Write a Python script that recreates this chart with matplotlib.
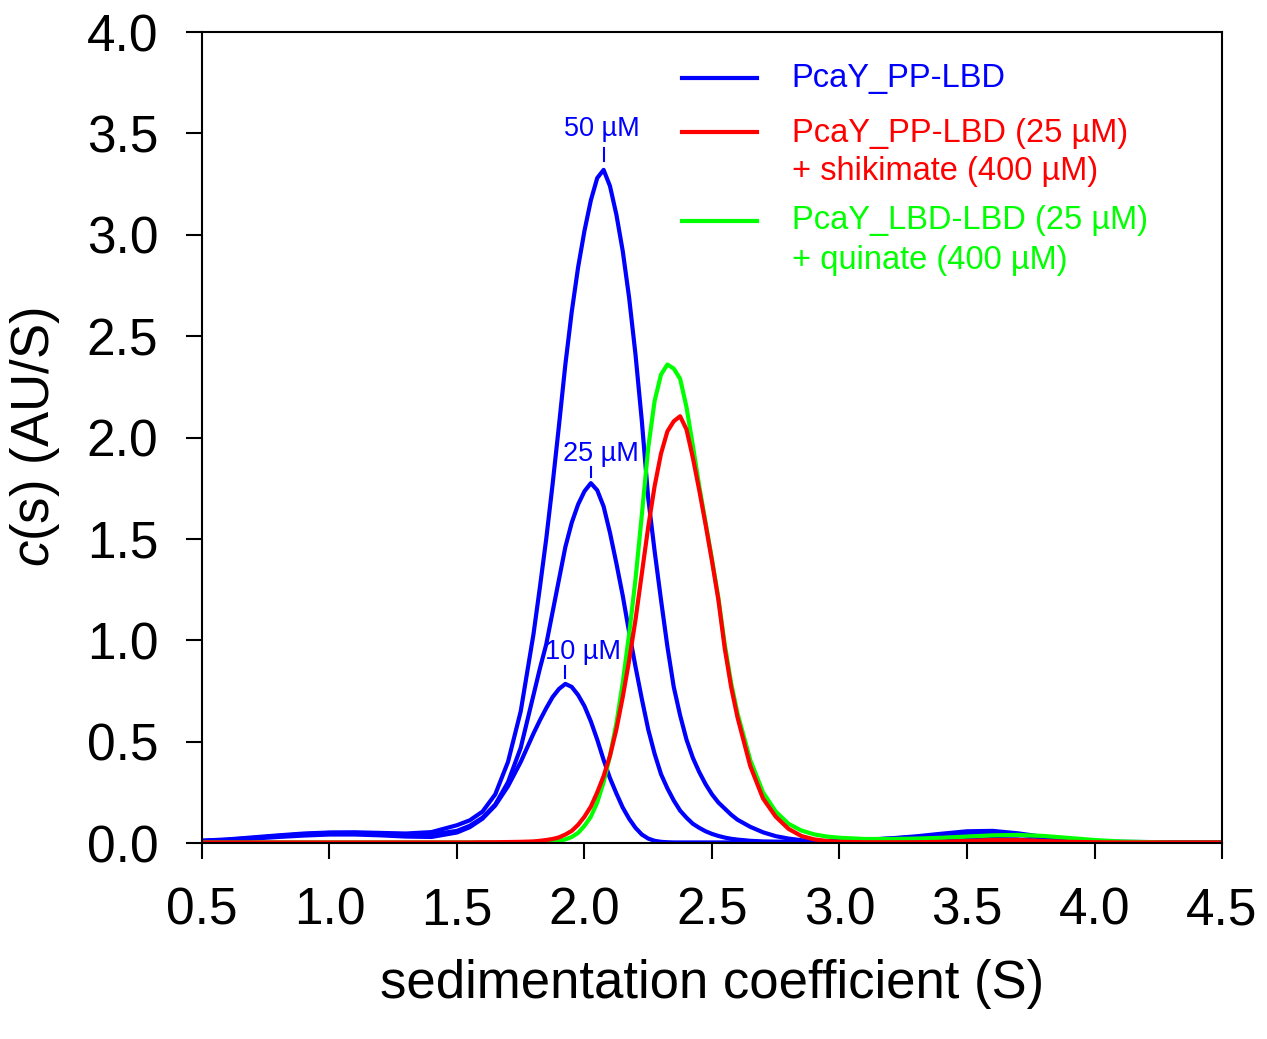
import numpy as np
import matplotlib
matplotlib.use('Agg')
import matplotlib.pyplot as plt
from matplotlib.lines import Line2D

plt.rcParams['font.family'] = ['Liberation Sans', 'DejaVu Sans']
plt.rcParams['mathtext.fontset'] = 'custom'
plt.rcParams['mathtext.rm'] = 'Liberation Sans'
plt.rcParams['mathtext.it'] = 'Liberation Sans:italic'

# sedimentation coefficient grid (S)
s = [0.5, 0.6, 0.7, 0.8, 0.9, 1.0, 1.1, 1.2, 1.3, 1.4,
     1.5, 1.55, 1.6, 1.65, 1.7, 1.75,
     1.8, 1.825, 1.85, 1.875, 1.9, 1.925, 1.95, 1.975, 2.0, 2.025, 2.05, 2.075,
     2.1, 2.125, 2.15, 2.175, 2.2, 2.225, 2.25, 2.275, 2.3, 2.325, 2.35, 2.375,
     2.4, 2.425, 2.45, 2.475, 2.5, 2.525, 2.55, 2.575, 2.6,
     2.65, 2.7, 2.75, 2.8, 2.85, 2.9, 2.95, 3.0,
     3.1, 3.2, 3.3, 3.4, 3.5, 3.6, 3.7, 3.8, 3.9, 4.0, 4.1, 4.2, 4.3, 4.4, 4.5]

# c(s) distributions (AU/S)
pp_50uM = [0.012, 0.018, 0.028, 0.038, 0.047, 0.052, 0.053, 0.05, 0.047, 0.054,
           0.088, 0.112, 0.155, 0.24, 0.40, 0.65,
           1.03, 1.26, 1.50, 1.77, 2.06, 2.36, 2.62, 2.84, 3.02, 3.17, 3.28, 3.32,
           3.24, 3.10, 2.92, 2.69, 2.41, 2.08, 1.70, 1.44, 1.20, 0.97, 0.77, 0.63,
           0.51, 0.42, 0.35, 0.29, 0.24, 0.20, 0.17, 0.14, 0.115,
           0.08, 0.053, 0.034, 0.022, 0.014, 0.011, 0.01, 0.011,
           0.016, 0.023, 0.033, 0.046, 0.058, 0.06, 0.048, 0.03, 0.016, 0.009, 0.006, 0.005, 0.004, 0.004, 0.004]

pp_25uM = [0.01, 0.016, 0.025, 0.035, 0.044, 0.05, 0.05, 0.046, 0.041, 0.042,
           0.06, 0.085, 0.125, 0.19, 0.30, 0.47,
           0.73, 0.86, 0.98, 1.14, 1.30, 1.46, 1.58, 1.67, 1.735, 1.775, 1.74, 1.66,
           1.53, 1.38, 1.22, 1.04, 0.87, 0.71, 0.56, 0.44, 0.34, 0.27, 0.21, 0.16,
           0.125, 0.095, 0.075, 0.058, 0.045, 0.035, 0.027, 0.021, 0.017,
           0.011, 0.008, 0.007, 0.007, 0.007, 0.008, 0.01, 0.012,
           0.016, 0.022, 0.03, 0.04, 0.05, 0.052, 0.042, 0.027, 0.015, 0.008, 0.005, 0.004, 0.004, 0.004, 0.004]

pp_10uM = [0.01, 0.015, 0.022, 0.03, 0.037, 0.042, 0.042, 0.038, 0.032, 0.03,
           0.052, 0.078, 0.12, 0.185, 0.28, 0.40,
           0.54, 0.605, 0.665, 0.72, 0.76, 0.785, 0.77, 0.73, 0.675, 0.60, 0.51, 0.41,
           0.32, 0.245, 0.175, 0.12, 0.075, 0.042, 0.022, 0.011, 0.006, 0.004, 0.003, 0.003,
           0.003, 0.003, 0.003, 0.003, 0.003, 0.003, 0.003, 0.003, 0.003,
           0.003, 0.003, 0.003, 0.003, 0.003, 0.003, 0.003, 0.003,
           0.003, 0.004, 0.005, 0.008, 0.015, 0.02, 0.018, 0.01, 0.005, 0.003, 0.003, 0.003, 0.003, 0.003, 0.003]

pp_shikimate = [0.003, 0.003, 0.003, 0.003, 0.003, 0.003, 0.003, 0.003, 0.003, 0.003,
                0.003, 0.003, 0.004, 0.004, 0.005, 0.006,
                0.008, 0.011, 0.015, 0.02, 0.028, 0.042, 0.06, 0.09, 0.13, 0.18, 0.25, 0.33,
                0.43, 0.56, 0.72, 0.90, 1.10, 1.33, 1.56, 1.76, 1.92, 2.03, 2.08, 2.105,
                2.04, 1.90, 1.74, 1.57, 1.39, 1.20, 0.96, 0.77, 0.62,
                0.38, 0.22, 0.13, 0.07, 0.035, 0.018, 0.01, 0.006,
                0.004, 0.004, 0.004, 0.006, 0.01, 0.015, 0.015, 0.01, 0.006, 0.004, 0.003, 0.003, 0.003, 0.003, 0.003]

lbd_quinate = [0.003, 0.003, 0.003, 0.003, 0.003, 0.003, 0.003, 0.003, 0.003, 0.003,
               0.003, 0.003, 0.003, 0.003, 0.003, 0.003,
               0.003, 0.004, 0.005, 0.007, 0.01, 0.018, 0.03, 0.05, 0.085, 0.13, 0.20, 0.30,
               0.43, 0.59, 0.79, 1.03, 1.30, 1.62, 1.95, 2.18, 2.31, 2.36, 2.34, 2.29,
               2.15, 1.96, 1.76, 1.58, 1.40, 1.21, 0.98, 0.79, 0.64,
               0.41, 0.25, 0.155, 0.095, 0.062, 0.043, 0.032, 0.026,
               0.02, 0.02, 0.022, 0.026, 0.032, 0.038, 0.04, 0.035, 0.025, 0.015, 0.008, 0.005, 0.003, 0.003, 0.003]

blue = '#0000ff'
red = '#ff0000'
green = '#00ff00'

fig = plt.figure(figsize=(12.67, 10.39), dpi=100)
ax = fig.add_axes([0.1594, 0.1886, 0.8051, 0.7806])

lw = 3.0
for cs in [pp_50uM, pp_25uM, pp_10uM]:
    ax.plot(s, cs, color=blue, lw=lw, solid_joinstyle='round')
ax.plot(s, lbd_quinate, color=green, lw=lw, solid_joinstyle='round')
ax.plot(s, pp_shikimate, color=red, lw=lw, solid_joinstyle='round')

# peak labels for the concentration series
peak_labels = ['50 µM', '25 µM', '10 µM']
label_pos = [(2.07, 3.52), (2.064, 1.92), (1.995, 0.94)]
dash_off = [(0.045, 0.11), (0.028, 0.08), (0.03, 0.09)]
for cs, lab, (tx, ty), (d0, d1) in zip([pp_50uM, pp_25uM, pp_10uM], peak_labels, label_pos, dash_off):
    i = int(np.argmax(cs))
    ax.plot([s[i], s[i]], [cs[i] + d0, cs[i] + d1], color=blue, lw=1.5)
    ax.text(tx, ty, lab, color=blue, fontsize=19.5, ha='center', va='center')

ax.set_xlim(0.5, 4.5)
ax.set_ylim(0, 4.0)
ax.set_xticks(np.arange(0.5, 4.51, 0.5))
ax.set_yticks(np.arange(0, 4.01, 0.5))
ax.xaxis.set_major_formatter(matplotlib.ticker.FormatStrFormatter('%.1f'))
ax.yaxis.set_major_formatter(matplotlib.ticker.FormatStrFormatter('%.1f'))
ax.tick_params(direction='out', length=11.5, width=1.5, labelsize=37, pad=20)
for sp in ax.spines.values():
    sp.set_linewidth(1.5)

ax.set_xlabel('sedimentation coefficient (S)', fontsize=38, labelpad=17)
ax.set_ylabel(r'$c$(s) (AU/S)', fontsize=38, labelpad=18)

# legend drawn by hand so the line sits next to the first text row
legend_rows = [
    (blue, 0.9429, ['PcaY_PP-LBD'], [0.9326]),
    (red, 0.8771, ['PcaY_PP-LBD (25 µM)', '+ shikimate (400 µM)'], [0.8647, 0.8175]),
    (green, 0.7670, ['PcaY_LBD-LBD (25 µM)', '+ quinate (400 µM)'], [0.7565, 0.7072]),
]
for col, ly, lines, bases in legend_rows:
    ax.add_line(Line2D([0.4703, 0.5438], [ly, ly], color=col, lw=3.0, transform=ax.transAxes))
    for txt, by in zip(lines, bases):
        ax.text(0.5781, by, txt, color=col, fontsize=23.5, ha='left', va='baseline',
                transform=ax.transAxes)

fig.savefig('out.png', dpi=100)
